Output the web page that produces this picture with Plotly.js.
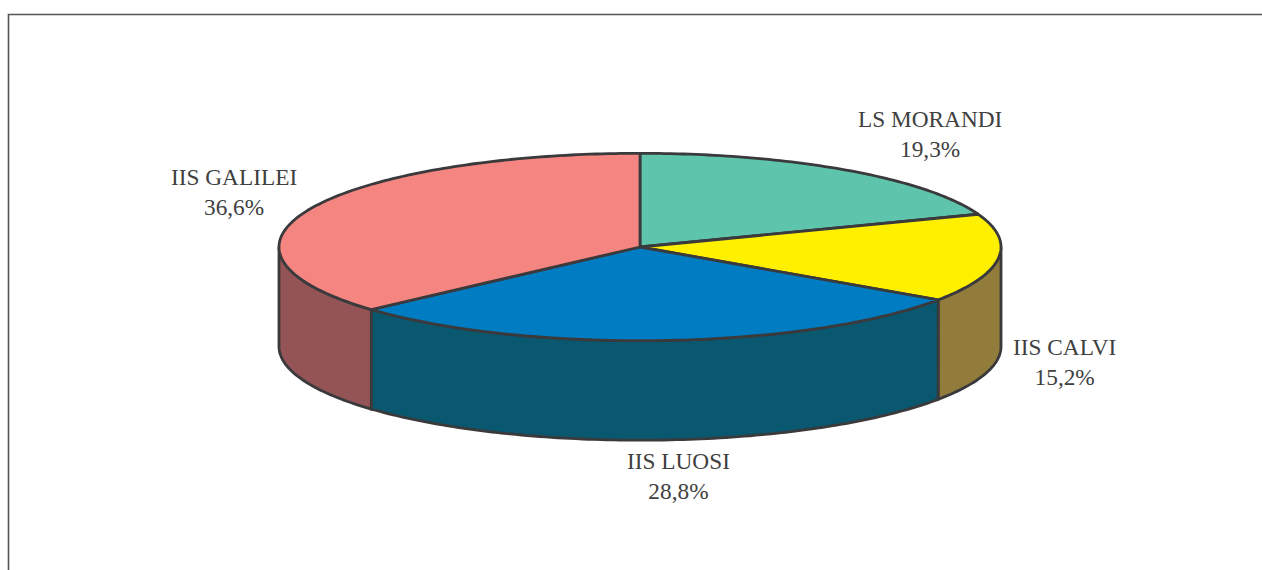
<!DOCTYPE html>
<html>
<head>
<meta charset="utf-8">
<script src="https://cdn.plot.ly/plotly-3.0.1.min.js"></script>
<style>html,body{margin:0;padding:0;background:#fff;overflow:hidden}</style>
</head>
<body>
<div id="chart" style="width:1262px;height:570px"></div>
<script>
var categories = ["LS MORANDI", "IIS CALVI", "IIS LUOSI", "IIS GALILEI"];
var shares = [19.3, 15.2, 28.8, 36.6];
var shareLabels = ["19,3%", "15,2%", "28,8%", "36,6%"];
var topColors = ["#5EC4AC", "#FFF000", "#007CC3", "#F58581"];
var sideColors = ["#4A9A88", "#917C3B", "#0A5870", "#945456"];
var labelX = [929.5, 1064.5, 678.5, 233.5];
var labelY = [134, 361.5, 475.5, 192];

var CX = 640, CY = 247, RX = 361, RY = 93.7, DEPTH = 99.5, EDGE = "#3A3A3C";
var total = shares.reduce(function (a, b) { return a + b; }, 0);

function pt(deg, dy) {
  var t = deg * Math.PI / 180;
  return [CX + RX * Math.sin(t), CY - RY * Math.cos(t) + dy];
}
function arc(a, b, dy) {
  var out = [], n = Math.max(2, Math.ceil(Math.abs(b - a)));
  for (var i = 0; i <= n; i++) out.push(pt(a + (b - a) * i / n, dy));
  return out;
}
function poly(points, color) {
  var closed = points.concat([points[0]]);
  return {
    type: "scatter", mode: "lines", fill: "toself", fillcolor: color,
    x: closed.map(function (p) { return p[0]; }),
    y: closed.map(function (p) { return p[1]; }),
    line: { color: EDGE, width: 2.8, simplify: false },
    hoverinfo: "skip", showlegend: false
  };
}

var traces = [], sides = [], tops = [], start = 0;
shares.forEach(function (v, i) {
  var end = start + v / total * 360;
  var a = Math.max(start, 90), b = Math.min(end, 270);
  if (b > a) sides.push(poly(arc(a, b, 0).concat(arc(b, a, DEPTH)), sideColors[i]));
  tops.push(poly([[CX, CY]].concat(arc(start, end, 0)), topColors[i]));
  start = end;
});
traces = sides.concat(tops);

var annotations = categories.map(function (c, i) {
  return {
    xref: "x", yref: "y", x: labelX[i], y: labelY[i], showarrow: false,
    text: c + "<br>" + shareLabels[i], align: "center",
    font: { family: "Liberation Serif, serif", size: 23.3, color: "#404040" }
  };
});

var layout = {
  width: 1262, height: 570, margin: { l: 0, r: 0, t: 0, b: 0, pad: 0 },
  paper_bgcolor: "#fff", plot_bgcolor: "#fff", showlegend: false,
  xaxis: { range: [0, 1262], visible: false, fixedrange: true },
  yaxis: { range: [570, 0], visible: false, fixedrange: true },
  annotations: annotations,
  shapes: [{
    type: "path", xref: "x", yref: "y", layer: "below",
    path: "M 8.5 570 L 8.5 14.5 L 1262 14.5",
    line: { color: "#555555", width: 1.6 }
  }]
};
Plotly.newPlot("chart", traces, layout, { staticPlot: true, displayModeBar: false });
</script>
</body>
</html>
